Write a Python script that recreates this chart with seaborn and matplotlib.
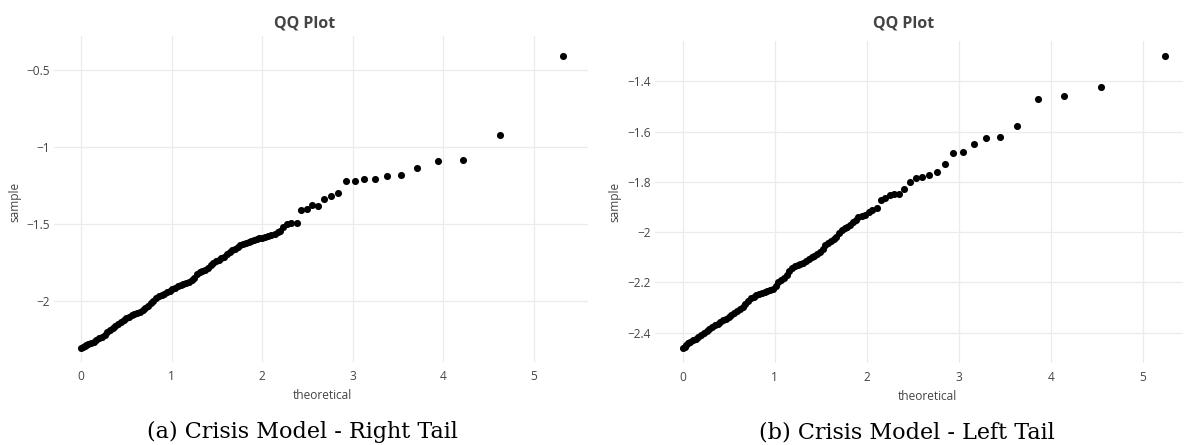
import matplotlib
matplotlib.use("Agg")
import matplotlib.pyplot as plt
import pandas as pd
import seaborn as sns
from matplotlib.ticker import FuncFormatter

# ── Data (theoretical quantile, sample quantile) ─────────────────────────────
right_tail_theoretical = [
    0.00, 0.02, 0.04, 0.06, 0.08, 0.11, 0.14, 0.17, 0.20, 0.23, 0.26, 0.29,
    0.32, 0.35, 0.38, 0.41, 0.44, 0.47, 0.50, 0.53, 0.56, 0.59, 0.62, 0.65,
    0.68, 0.71, 0.74, 0.77, 0.80, 0.83, 0.86, 0.89, 0.92, 0.95, 0.98, 1.01,
    1.04, 1.07, 1.10, 1.13, 1.16, 1.19, 1.22, 1.25, 1.28, 1.31, 1.34, 1.37,
    1.40, 1.43, 1.46, 1.49, 1.52, 1.55, 1.58, 1.61, 1.64, 1.67, 1.70, 1.73,
    1.76, 1.79, 1.82, 1.85, 1.88, 1.91, 1.94, 1.97, 2.00, 2.03, 2.06, 2.10,
    2.14, 2.17, 2.20, 2.23, 2.27, 2.32, 2.38, 2.431, 2.491, 2.553, 2.616,
    2.682, 2.759, 2.840, 2.925, 3.021, 3.127, 3.245, 3.377, 3.532, 3.712,
    3.937, 4.220, 4.625, 5.317,
]
right_tail_sample = [
    -2.310, -2.303, -2.297, -2.290, -2.284, -2.275, -2.267, -2.257, -2.246,
    -2.236, -2.222, -2.207, -2.192, -2.177, -2.163, -2.152, -2.141, -2.128,
    -2.115, -2.104, -2.095, -2.086, -2.078, -2.072, -2.063, -2.048, -2.033,
    -2.016, -2.000, -1.985, -1.972, -1.962, -1.954, -1.945, -1.936, -1.926,
    -1.916, -1.906, -1.896, -1.889, -1.884, -1.876, -1.865, -1.850, -1.830,
    -1.815, -1.808, -1.800, -1.785, -1.770, -1.757, -1.745, -1.733, -1.724,
    -1.715, -1.700, -1.686, -1.672, -1.662, -1.650, -1.640, -1.632, -1.624,
    -1.617, -1.611, -1.606, -1.601, -1.595, -1.590, -1.585, -1.580, -1.574,
    -1.565, -1.556, -1.550, -1.521, -1.503, -1.497, -1.492, -1.411, -1.403,
    -1.381, -1.383, -1.337, -1.320, -1.298, -1.225, -1.225, -1.207, -1.207,
    -1.188, -1.183, -1.137, -1.092, -1.088, -0.925, -0.406,
]

left_tail_theoretical = [
    0.00, 0.02, 0.04, 0.06, 0.08, 0.11, 0.14, 0.17, 0.20, 0.23, 0.26, 0.29,
    0.32, 0.35, 0.38, 0.41, 0.44, 0.47, 0.50, 0.53, 0.56, 0.59, 0.62, 0.65,
    0.68, 0.71, 0.74, 0.77, 0.80, 0.83, 0.86, 0.89, 0.92, 0.95, 0.98, 1.01,
    1.04, 1.07, 1.10, 1.13, 1.16, 1.19, 1.22, 1.25, 1.28, 1.31, 1.34, 1.37,
    1.40, 1.43, 1.46, 1.49, 1.52, 1.55, 1.58, 1.61, 1.64, 1.67, 1.70, 1.73,
    1.76, 1.79, 1.82, 1.85, 1.88, 1.91, 1.95, 1.98, 2.02, 2.06, 2.11, 2.158,
    2.194, 2.248, 2.299, 2.350, 2.408, 2.470, 2.535, 2.604, 2.680, 2.760,
    2.847, 2.941, 3.047, 3.167, 3.297, 3.453, 3.634, 3.859, 4.146, 4.552,
    5.245,
]
left_tail_sample = [
    -2.462, -2.455, -2.448, -2.441, -2.436, -2.430, -2.423, -2.415, -2.408,
    -2.401, -2.393, -2.385, -2.377, -2.371, -2.364, -2.357, -2.351, -2.344,
    -2.336, -2.328, -2.320, -2.312, -2.304, -2.296, -2.285, -2.272, -2.263,
    -2.257, -2.251, -2.245, -2.240, -2.236, -2.233, -2.230, -2.225, -2.213,
    -2.200, -2.191, -2.182, -2.170, -2.155, -2.141, -2.135, -2.130, -2.127,
    -2.122, -2.115, -2.105, -2.098, -2.093, -2.087, -2.078, -2.066, -2.052,
    -2.043, -2.035, -2.027, -2.018, -2.005, -1.991, -1.985, -1.980, -1.972,
    -1.961, -1.950, -1.940, -1.934, -1.931, -1.920, -1.912, -1.902, -1.872,
    -1.866, -1.852, -1.847, -1.848, -1.829, -1.800, -1.785, -1.781, -1.773,
    -1.759, -1.728, -1.686, -1.680, -1.648, -1.624, -1.620, -1.576, -1.471,
    -1.458, -1.423, -1.299,
]

x_ticks = [0, 1, 2, 3, 4, 5]
right_y_ticks = [-2.0, -1.5, -1.0, -0.5]
left_y_ticks = [-2.4, -2.2, -2.0, -1.8, -1.6, -1.4]
captions = ["(a) Crisis Model - Right Tail", "(b) Crisis Model - Left Tail"]

sns.set_theme(style="white")
plt.rcParams["font.family"] = ["Open Sans", "DejaVu Sans"]

TXT = "#444444"
GRID = "#ebebeb"

fig = plt.figure(figsize=(11.84, 4.45), dpi=100)
ax1 = fig.add_axes([0.04544, 0.1863, 0.4515, 0.7324])
ax2 = fig.add_axes([0.5533, 0.1845, 0.4460, 0.7231])

panels = [
    (ax1, right_tail_theoretical, right_tail_sample, right_y_ticks,
     (-0.3, 5.6), (-2.40, -0.28), (0.502, -0.104), (-0.0726, 0.491)),
    (ax2, left_tail_theoretical, left_tail_sample, left_y_ticks,
     (-0.3, 5.44), (-2.52, -1.24), (0.515, -0.103), (-0.0759, 0.50)),
]

fmt = FuncFormatter(lambda v, p: f"{v:g}".replace("-", "\u2212"))

for ax, xs, ys, yt, xl, yl, xlab_pos, ylab_pos in panels:
    df = pd.DataFrame({"theoretical": xs, "sample": ys})
    sns.scatterplot(data=df, x="theoretical", y="sample", ax=ax,
                    color="black", s=26, linewidth=0, zorder=3)
    ax.set_xlim(*xl)
    ax.set_ylim(*yl)
    ax.set_xticks(x_ticks)
    ax.set_yticks(yt)
    ax.yaxis.set_major_formatter(fmt)
    ax.grid(True, color=GRID, linewidth=0.9)
    ax.set_axisbelow(True)
    for sp in ax.spines.values():
        sp.set_visible(False)
    ax.tick_params(axis="both", length=0, labelsize=8.6, labelcolor=TXT)
    ax.tick_params(axis="x", pad=6)
    ax.tick_params(axis="y", pad=3)
    ax.set_xlabel("theoretical", fontsize=8.6, color=TXT)
    ax.set_ylabel("sample", fontsize=8.6, color=TXT)
    ax.xaxis.label.set_va("center")
    ax.yaxis.label.set_va("center")
    ax.xaxis.set_label_coords(*xlab_pos)
    ax.yaxis.set_label_coords(*ylab_pos)

# panel titles
for xc in (305, 904):
    fig.text(xc / 1184, 1 - 23 / 445, "QQ Plot", ha="center", va="center",
             fontsize=11.5, fontweight="bold", color=TXT)

# subfigure captions
for xc, cap in zip((302, 907), captions):
    fig.text(xc / 1184, 1 - 432 / 445, cap, ha="center", va="center",
             fontsize=16, family="DejaVu Serif", color="black")

fig.savefig("out.png", dpi=100)
